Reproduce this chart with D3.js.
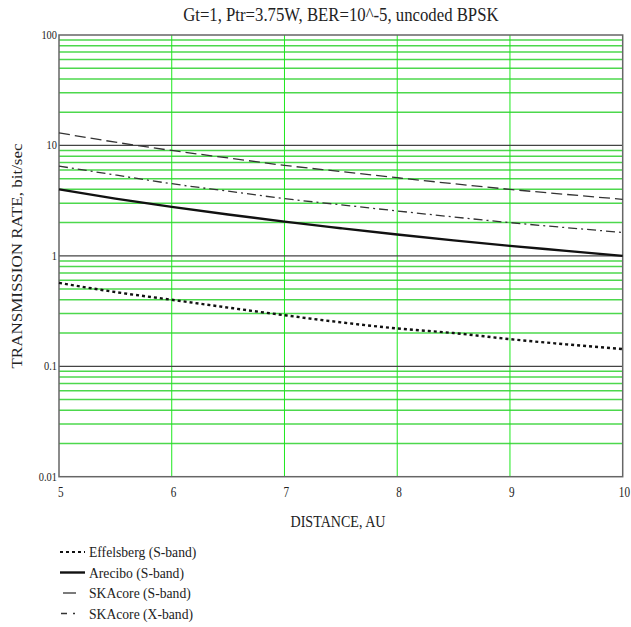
<!DOCTYPE html>
<html>
<head>
    <meta charset="utf-8">
    <title></title>
    <script src="https://d3js.org/d3.v7.min.js"></script>
    <style>
        html, body { margin: 0; padding: 0; background: #fff; }
        svg text { font-family: "Liberation Serif", "DejaVu Serif", "Times New Roman", serif; fill: #222; }
    </style>
</head>
<body>
    <div id="chart"></div>
    <script>
        // Distance (AU) sample points
        const distance = [5, 5.5, 6, 6.5, 7, 7.5, 8, 8.5, 9, 9.5, 10];

        // Transmission rate, bit/sec
        const effelsbergS = [0.57, 0.47, 0.40, 0.34, 0.29, 0.25, 0.22, 0.20, 0.176, 0.158, 0.143];
        const areciboS    = [4.0, 3.3, 2.78, 2.37, 2.04, 1.78, 1.56, 1.38, 1.23, 1.11, 1.0];
        const skaS        = [13, 10.7, 9.0, 7.7, 6.6, 5.8, 5.1, 4.5, 4.0, 3.6, 3.25];
        const skaX        = [6.5, 5.4, 4.5, 3.85, 3.3, 2.9, 2.55, 2.25, 2.0, 1.8, 1.63];

        const seriesNames = ["Effelsberg (S-band)", "Arecibo (S-band)", "SKAcore (S-band)", "SKAcore (X-band)"];

        const xTicks = [5, 6, 7, 8, 9, 10];
        const yTicks = [100, 10, 1, 0.1, 0.01];
        const yTickLabels = ["100", "10", "1", "0.1", "0.01"];

        const W = 631, H = 627;
        const plotL = 59, plotR = 622.7, plotT = 35, plotB = 476.7;

        const svg = d3.select("#chart").append("svg")
            .attr("width", W)
            .attr("height", H)
            .attr("font-family", "Liberation Serif, DejaVu Serif, serif");

        const x = d3.scaleLinear().domain([5, 10]).range([plotL, plotR]);
        const y = d3.scaleLog().domain([0.01, 100]).range([plotB, plotT]);

        // minor horizontal grid (green)
        const minor = y.ticks().filter(v => yTicks.indexOf(v) < 0);
        svg.append("g").selectAll("line")
            .data(minor)
            .enter().append("line")
            .attr("x1", plotL).attr("x2", plotR)
            .attr("y1", d => y(d)).attr("y2", d => y(d))
            .attr("stroke", "#4cd84c")
            .attr("stroke-width", 1.5);

        // vertical grid (green)
        svg.append("g").selectAll("line")
            .data(xTicks.slice(1, -1))
            .enter().append("line")
            .attr("x1", d => x(d)).attr("x2", d => x(d))
            .attr("y1", plotT).attr("y2", plotB)
            .attr("stroke", "#1ee81e")
            .attr("stroke-width", 1);

        // decade lines
        svg.append("g").selectAll("line")
            .data(yTicks.slice(1, -1))
            .enter().append("line")
            .attr("x1", plotL).attr("x2", plotR)
            .attr("y1", d => y(d)).attr("y2", d => y(d))
            .attr("stroke", "#444")
            .attr("stroke-width", 1.2);

        // frame
        svg.append("rect")
            .attr("x", plotL).attr("y", plotT)
            .attr("width", plotR - plotL).attr("height", plotB - plotT)
            .attr("fill", "none")
            .attr("stroke", "#666")
            .attr("stroke-width", 1.5);

        // tick labels
        svg.append("g").selectAll("text")
            .data(yTicks)
            .enter().append("text")
            .attr("transform", d => `translate(57,${y(d) + 4}) scale(0.8,1)`)
            .attr("text-anchor", "end")
            .style("font-size", "13px")
            .text((d, i) => yTickLabels[i]);

        // last label is kept inside the page edge
        svg.append("g").selectAll("text")
            .data(xTicks)
            .enter().append("text")
            .attr("transform", (d, i) => i === xTicks.length - 1
                ? `translate(630,497) scale(0.8,1)`
                : `translate(${x(d) - 1},497) scale(0.8,1)`)
            .attr("text-anchor", (d, i) => i === xTicks.length - 1 ? "end" : "start")
            .style("font-size", "14px")
            .text(d => d);

        // title and axis titles
        svg.append("text")
            .attr("transform", `translate(${(plotL + plotR) / 2},21) scale(0.93,1)`)
            .attr("text-anchor", "middle")
            .style("font-size", "18px")
            .text("Gt=1, Ptr=3.75W, BER=10^-5, uncoded BPSK");

        svg.append("text")
            .attr("transform", `translate(338,527) scale(0.88,1)`)
            .attr("text-anchor", "middle")
            .style("font-size", "16px")
            .text("DISTANCE, AU");

        svg.append("text")
            .attr("transform", `translate(22,256) scale(0.88,1) rotate(-90)`)
            .attr("text-anchor", "middle")
            .style("font-size", "17px")
            .text("TRANSMISSION RATE, bit/sec");

        // series
        const styles = [
            { values: effelsbergS, width: 2.4, dash: "3,3", color: "#111" },
            { values: areciboS, width: 2.4, dash: null, color: "#111" },
            { values: skaS, width: 1.3, dash: "11,5", color: "#333" },
            { values: skaX, width: 1.3, dash: "9,4,2,4", color: "#333" }
        ];

        const line = d3.line()
            .x(d => x(d[0]))
            .y(d => y(d[1]))
            .curve(d3.curveMonotoneX);

        styles.forEach(s => {
            svg.append("path")
                .datum(distance.map((d, i) => [d, s.values[i]]))
                .attr("d", line)
                .attr("fill", "none")
                .attr("stroke", s.color)
                .attr("stroke-width", s.width)
                .attr("stroke-dasharray", s.dash);
        });

        // legend
        const legendSamples = [
            { x1: 60, x2: 85, width: 2, dash: "3,3", color: "#111" },
            { x1: 60, x2: 85, width: 2.4, dash: null, color: "#111" },
            { x1: 63, x2: 76, width: 1.3, dash: null, color: "#333" },
            { x1: 61, x2: 80, width: 1.3, dash: "6,6,2,6", color: "#333" }
        ];

        const legend = svg.append("g");
        seriesNames.forEach((name, i) => {
            const cy = 552 + i * 20.5;
            const s = legendSamples[i];
            legend.append("line")
                .attr("x1", s.x1).attr("x2", s.x2)
                .attr("y1", cy).attr("y2", cy)
                .attr("stroke", s.color)
                .attr("stroke-width", s.width)
                .attr("stroke-dasharray", s.dash);
            legend.append("text")
                .attr("transform", `translate(89,${cy + 5}) scale(0.88,1)`)
                .style("font-size", "15.5px")
                .text(name);
        });
    </script>
</body>
</html>
